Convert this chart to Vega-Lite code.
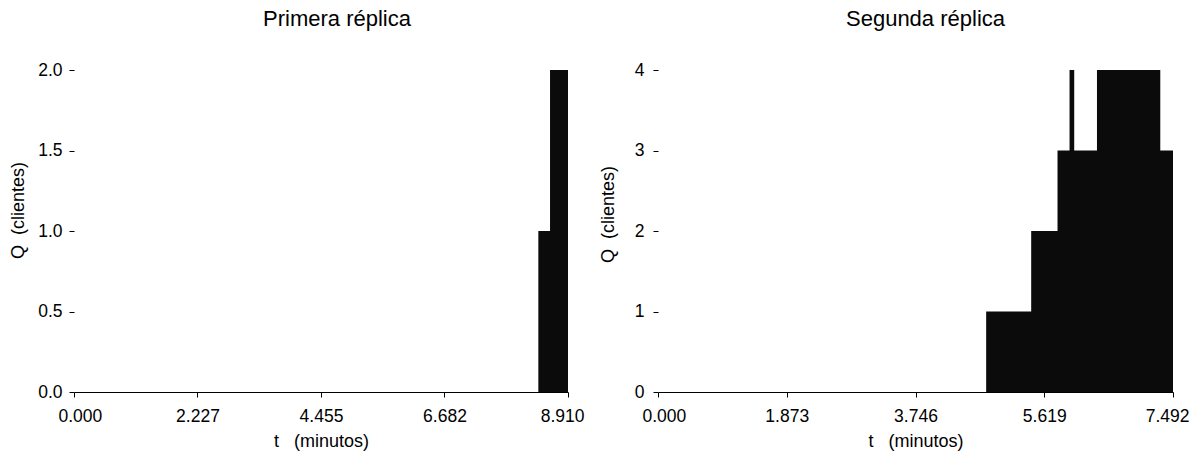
{
  "$schema": "https://vega.github.io/schema/vega-lite/v6.json",
  "background": "white",
  "padding": {"left": 9, "top": 8, "right": 2, "bottom": 2},
  "config": {
    "font": "Liberation Sans",
    "view": {"stroke": null},
    "axis": {"labelFont": "Liberation Sans", "titleFont": "Liberation Sans", "labelColor": "#000", "titleColor": "#000", "titleFontWeight": "normal", "labelFontSize": 17.5, "titleFontSize": 18, "grid": false, "tickColor": "#000", "domainColor": "#000", "tickSize": 5},
    "title": {"font": "Liberation Sans", "fontSize": 22, "fontWeight": "normal", "color": "#000"}
  },
  "bounds": "flush",
  "spacing": 90,
  "datasets": {
    "r1": [
      {"t": 0, "Q": 0},
      {"t": 8.375, "Q": 1},
      {"t": 8.586, "Q": 2},
      {"t": 8.91, "Q": 2}
    ],
    "r2": [
      {"t": 0, "Q": 0},
      {"t": 4.774, "Q": 1},
      {"t": 5.429, "Q": 2},
      {"t": 5.812, "Q": 3},
      {"t": 5.987, "Q": 4},
      {"t": 6.055, "Q": 3},
      {"t": 6.386, "Q": 4},
      {"t": 7.307, "Q": 3},
      {"t": 7.492, "Q": 3}
    ]
  },
  "hconcat": [
    {
      "width": 494,
      "height": 322,
      "title": {"text": "Primera réplica", "dx": 16, "offset": 30},
      "data": {"name": "r1"},
      "mark": {"type": "area", "interpolate": "step-after", "color": "#0b0b0b"},
      "encoding": {
        "x": {"field": "t", "type": "quantitative", "scale": {"domain": [0, 8.91], "nice": false, "zero": true},
          "axis": {"title": "t\u00a0\u00a0\u00a0(minutos)", "values": [0, 2.227, 4.455, 6.682, 8.91], "format": ".3f", "labelPadding": 10, "titlePadding": 8, "labelFlush": true, "labelFlushOffset": 16}},
        "y": {"field": "Q", "type": "quantitative", "scale": {"domain": [0, 2], "nice": false},
          "axis": {"title": "Q\u00a0\u00a0(clientes)", "values": [0, 0.5, 1, 1.5, 2], "format": ".1f", "domain": false, "labelPadding": 7, "titlePadding": 10, "titleY": 140}}
      }
    },
    {
      "width": 515,
      "height": 322,
      "title": {"text": "Segunda réplica", "dx": 10, "offset": 30},
      "data": {"name": "r2"},
      "mark": {"type": "area", "interpolate": "step-after", "color": "#0b0b0b"},
      "encoding": {
        "x": {"field": "t", "type": "quantitative", "scale": {"domain": [0, 7.492], "nice": false, "zero": true},
          "axis": {"title": "t\u00a0\u00a0\u00a0(minutos)", "values": [0, 1.873, 3.746, 5.619, 7.492], "format": ".3f", "labelPadding": 10, "titlePadding": 8, "labelFlush": true, "labelFlushOffset": 16}},
        "y": {"field": "Q", "type": "quantitative", "scale": {"domain": [0, 4], "nice": false},
          "axis": {"title": "Q\u00a0\u00a0(clientes)", "values": [0, 1, 2, 3, 4], "format": "d", "domain": false, "labelPadding": 9, "titlePadding": 17, "titleY": 144}}
      }
    }
  ]
}
